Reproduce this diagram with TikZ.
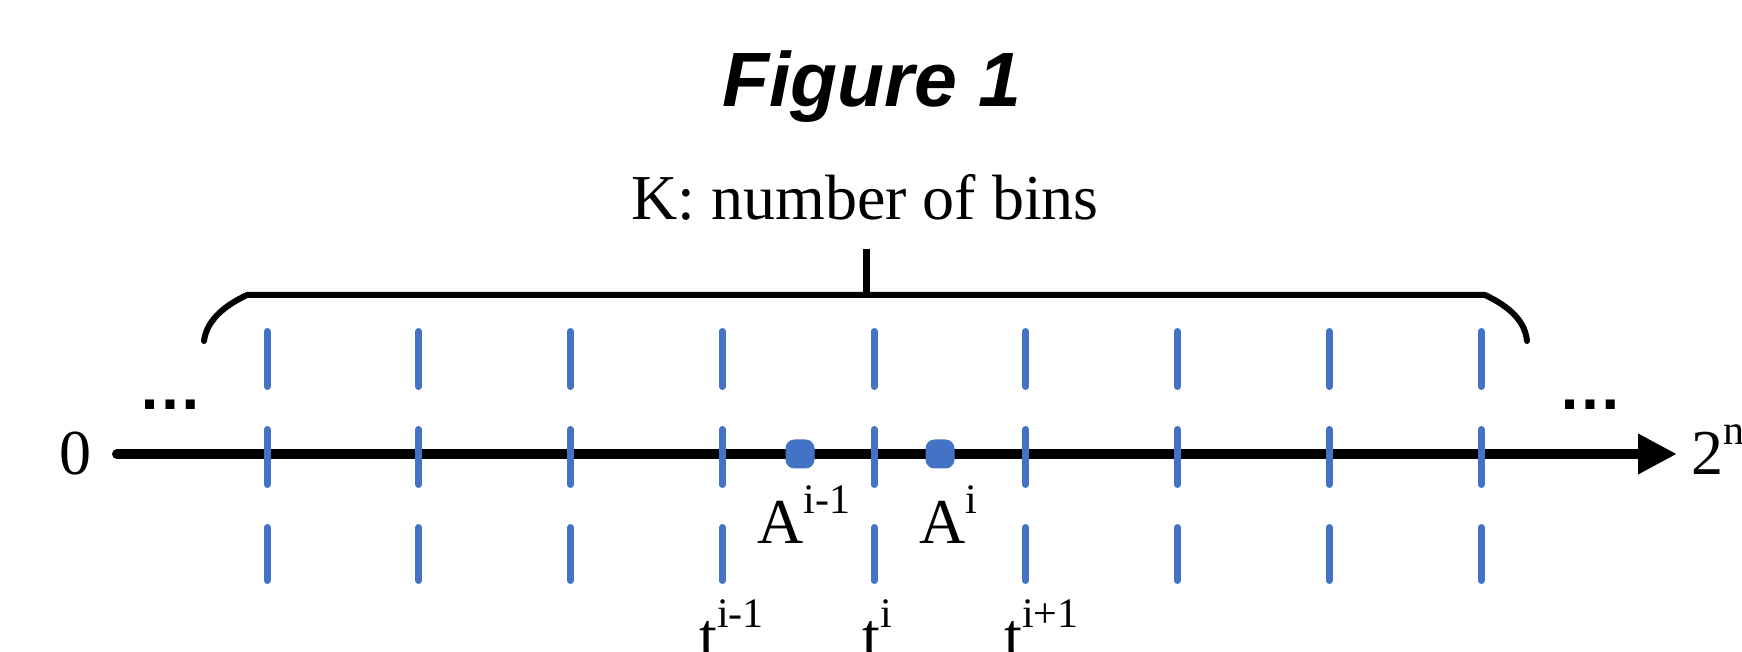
\documentclass[tikz,border=0pt]{standalone}
\usepackage{fontspec}
\setmainfont{Liberation Serif}
\newfontfamily\figfont{Liberation Sans}
\usetikzlibrary{arrows.meta}
\definecolor{binblue}{HTML}{4472C4}
\newcommand\supx[1]{\raisebox{15pt}{\fontsize{21}{21}\selectfont #1}}
\begin{document}
\begin{tikzpicture}[x=0.5pt,y=-0.5pt,
  lbl/.style={inner sep=0pt, font=\fontsize{32}{38}\selectfont},
  dots/.style={inner sep=0pt, font=\figfont\bfseries\fontsize{32}{38}\selectfont},
  bindash/.style={binblue, line width=3.5pt, line cap=round},
  bracepath/.style={line width=3pt, line cap=round, line join=round},
  axisline/.style={line width=5pt, line cap=round, -{Triangle[length=19.5pt,width=19pt]}},
  binpt/.style={fill=binblue, draw=none, rectangle, rounded corners=4.5pt, minimum size=14.5pt, inner sep=0pt}]
\useasboundingbox (0,0) rectangle (1742,652);

% title
\node[inner sep=0pt, anchor=base, font=\figfont\bfseries\itshape\fontsize{38.5}{46}\selectfont] (title) at (872,107) {Figure 1};

% brace label
\node[lbl, anchor=base] (klabel) at (865,220) {K: number of bins};

% brace
\coordinate (bl) at (204,341);
\coordinate (br) at (1527,341);
\coordinate (bm) at (866,295);
\coordinate (bt) at (866,249);
\draw[bracepath] (bl) .. controls (207,318) and (228,304) .. (247,295) -- (1485,295) .. controls (1504,304) and (1525,318) .. (br);
\draw[line width=3.5pt] (bm) -- (bt);

% axis
\node[lbl, anchor=base] (zero) at (75,474) {0};
\node[lbl, anchor=base west] (twon) at (1691,474) {2\supx{n}};
\coordinate (axs) at (117,454);
\coordinate (axe) at (1677,454);
\draw[axisline] (axs) -- (axe);

% ellipses
\node[dots, anchor=base] (dleft) at (170,410) {…};
\node[dots, anchor=base] (dright) at (1590,410) {…};

% bin boundaries
\foreach \k in {0,...,8} {
  \pgfmathsetmacro\xx{267+151.75*\k}
  \draw[bindash] (\xx,331.5) -- (\xx,386.5);
  \draw[bindash] (\xx,429.5) -- (\xx,484.5);
  \draw[bindash] (\xx,527.5) -- (\xx,580.5);
}

% points
\node[binpt] (aprev) at (800,454) {};
\node[binpt] (acur) at (940,454) {};

% labels
\node[lbl, anchor=base west] (laprev) at (757,543) {A\supx{i-1}};
\node[lbl, anchor=base west] (lacur) at (919,543) {A\supx{i}};
\node[lbl, anchor=base west] (ltprev) at (699,657) {t\supx{i-1}};
\node[lbl, anchor=base west] (ltcur) at (862,657) {t\supx{i}};
\node[lbl, anchor=base west] (ltnext) at (1004,657) {t\supx{i+1}};
\end{tikzpicture}
\end{document}
